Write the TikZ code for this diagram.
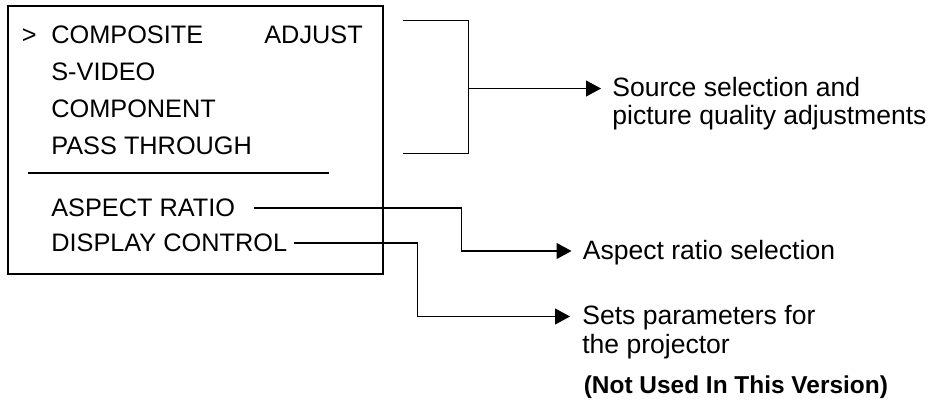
\documentclass[tikz,border=0pt]{standalone}
\usepackage{fontspec}
\setmainfont{Liberation Sans}
\usetikzlibrary{arrows.meta}

\begin{document}
\begin{tikzpicture}[
  item/.style={anchor=base west, inner sep=0pt, font=\fontsize{14.4}{14.4}\selectfont},
  note/.style={anchor=base west, inner sep=0pt, align=left, font=\fontsize{15.1}{16.2}\selectfont},
  link/.style={line width=0.6pt},
  pointer/.style={link, -{Triangle[length=0.3cm, width=0.32cm]}}
]
\useasboundingbox (0,0) rectangle (18.68,-8);
% menu frame
\draw[line width=1.15pt] (0.16,-0.12) rectangle (7.66,-5.48);
\node[item] (cursor) at (0.43,-0.87) {>};
\node[item] (composite) at (1.02,-0.87) {COMPOSITE};
\node[item] (adjust) at (5.28,-0.87) {ADJUST};
\node[item] (svideo) at (1.02,-1.61) {S-VIDEO};
\node[item] (component) at (1.02,-2.35) {COMPONENT};
\node[item] (pass) at (1.02,-3.09) {PASS THROUGH};
\draw[line width=1.15pt] (0.55,-3.46) -- (6.58,-3.46);
\node[item] (aspect) at (1.02,-4.334) {ASPECT RATIO};
\node[item] (display) at (1.02,-5.034) {DISPLAY CONTROL};
% labels (base = last line)
\node[note] (srclbl) at (12.24,-2.50) {Source selection and\\picture quality adjustments};
\node[note] (aspectlbl) at (11.65,-5.19) {Aspect ratio selection};
\node[note] (setslbl) at (11.64,-7.06) {Sets parameters for\\the projector};
\node[note, font=\bfseries\fontsize{13.9}{13.9}\selectfont] (notused) at (11.67,-7.87) {(Not Used In This Version)};
% connectors
\coordinate (brk-top) at (8.05,-0.41);
\coordinate (brk-bot) at (8.05,-3.07);
\coordinate (brk-mid) at (9.37,-1.77);
\coordinate (src-tip) at (12.02,-1.77);
\coordinate (aspect-tip) at (11.43,-5.02);
\coordinate (sets-tip) at (11.40,-6.33);
\draw[link] (brk-top) -| (brk-mid) |- (brk-bot);
\draw[pointer] (brk-mid) -- (src-tip);
\draw[pointer] ([xshift=0.38cm]aspect.east) -| (9.23,-5.02) -- (aspect-tip);
\draw[pointer] ([xshift=0.14cm]display.east) -| (8.35,-6.33) -- (sets-tip);
\end{tikzpicture}
\end{document}
